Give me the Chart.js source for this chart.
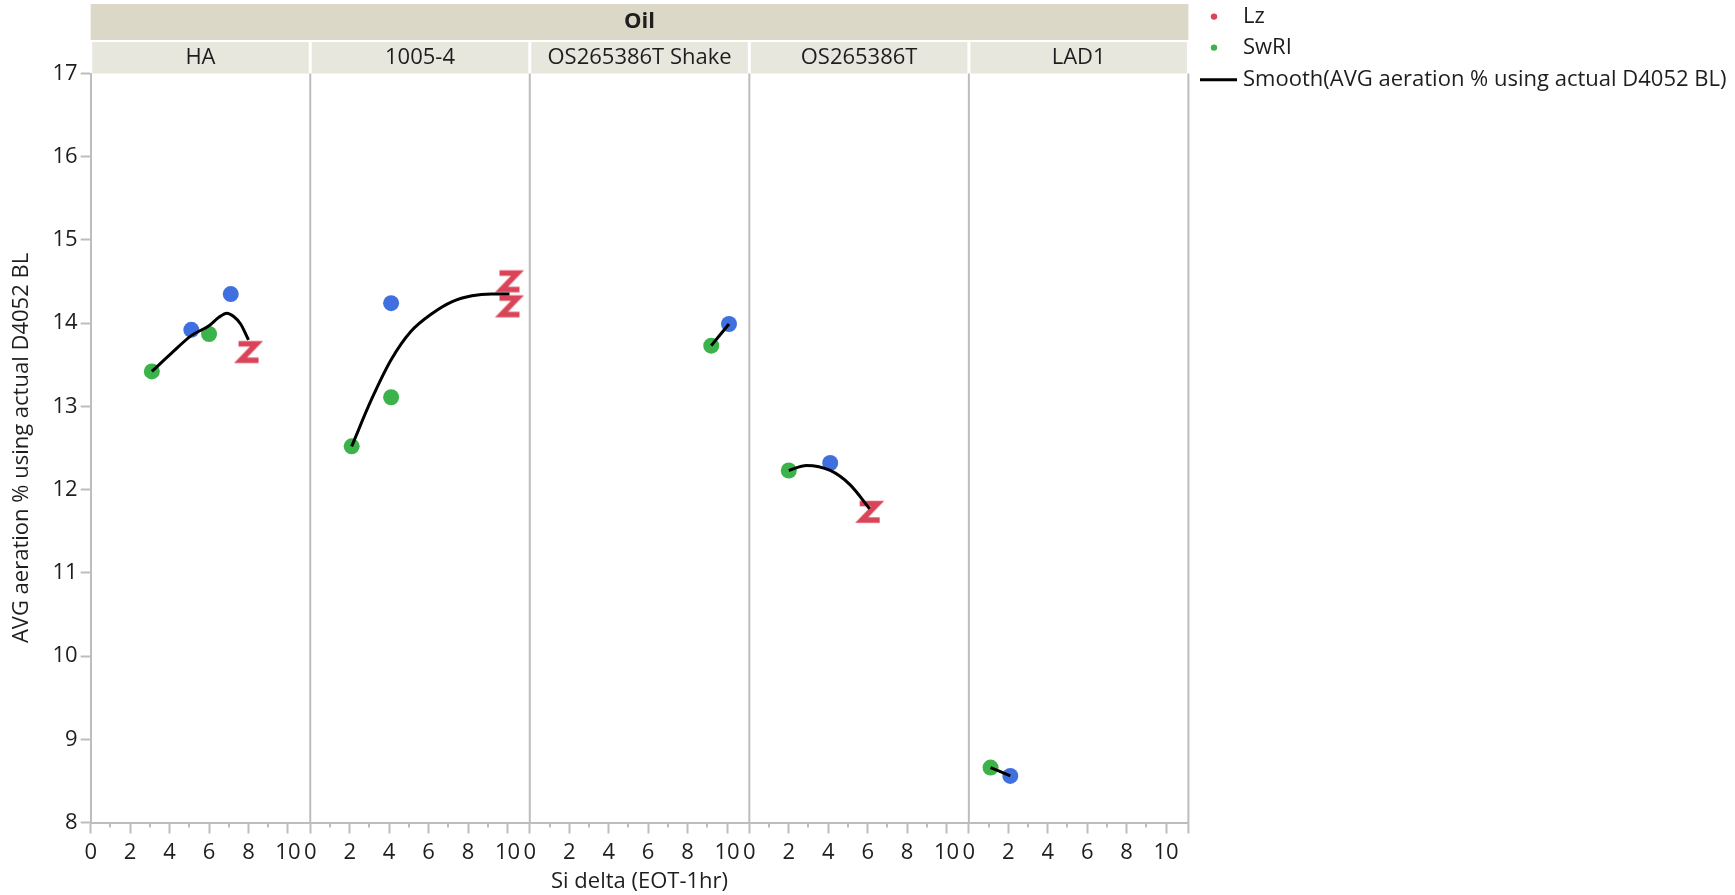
<!DOCTYPE html>
<html>
<head>
<meta charset="utf-8">
<script src="https://cdn.jsdelivr.net/npm/chart.js@4.4.0/dist/chart.umd.min.js"></script>
<style>
  html, body { margin: 0; padding: 0; background: #ffffff; }
  #wrap { width: 1735px; height: 895px; position: relative; }
  canvas { display: block; }
</style>
</head>
<body>
<div id="wrap"><canvas id="chart" width="1735" height="895"></canvas></div>
<script>
// ---- data ----
const groupTitle = 'Oil';
const oils = ['HA', '1005-4', 'OS265386T Shake', 'OS265386T', 'LAD1'];

// Lz lab (drawn with a "Z" marker)
const lzX = [[8.0], [10.1, 10.1], [], [6.1], []];
const lzY = [[13.65], [14.5, 14.2], [], [11.73], []];

// SwRI lab
const swriX = [[3.1, 6.0], [2.1, 4.1], [9.2], [2.0], [1.1]];
const swriY = [[13.42, 13.87], [12.52, 13.11], [13.73], [12.23], [8.66]];

// third lab (blue)
const otherX = [[5.1, 7.1], [4.1], [10.1], [4.1], [2.1]];
const otherY = [[13.92, 14.35], [14.24], [13.99], [12.32], [8.56]];

// smoother through each oil's results
const smoothX = [
  [3.1, 4.1, 5.1, 6.0, 6.5, 6.9, 7.25, 7.6, 8.0],
  [2.1, 3.1, 4.1, 5.1, 6.2, 7.2, 8.2, 9.2, 10.1],
  [9.2, 10.1],
  [2.0, 2.9, 4.1, 5.1, 6.1],
  [1.1, 2.1]
];
const smoothY = [
  [13.42, 13.64, 13.85, 13.97, 14.07, 14.12, 14.08, 13.99, 13.80],
  [12.52, 13.08, 13.56, 13.90, 14.12, 14.26, 14.33, 14.35, 14.35],
  [13.73, 13.99],
  [12.23, 12.29, 12.23, 12.06, 11.77],
  [8.66, 8.56]
];

const yTicks = [8, 9, 10, 11, 12, 13, 14, 15, 16, 17];
const xTicks = [0, 1, 2, 3, 4, 5, 6, 7, 8, 9, 10];
const xTickLabels = [0, 2, 4, 6, 8, 10];

const yTitle = 'AVG aeration % using actual D4052 BL';
const xTitle = 'Si delta (EOT-1hr)';
const legendItems = ['Lz', 'SwRI', 'Smooth(AVG aeration % using actual D4052 BL)'];

// ---- styles ----
const FONT = '"Open Sans", "Noto Sans", sans-serif';
const TEXT = '#1e1e1e';
const GRID = '#BDBDBD';
const RED = '#DA4458';
const GREEN = '#3CB24A';
const BLUE = '#4070E0';
const BAND = '#DBD8C8';
const CELL = '#E8E7DE';

function makeZ(color) {
  const c = document.createElement('canvas');
  c.width = 32; c.height = 30;
  const g = c.getContext('2d');
  g.strokeStyle = color;
  g.lineWidth = 5.5;
  g.lineJoin = 'miter';
  g.lineCap = 'butt';
  g.beginPath();
  g.moveTo(6, 6.5);
  g.lineTo(24, 6.5);
  g.lineTo(8, 23);
  g.lineTo(26, 23);
  g.stroke();
  return c;
}
const zMark = makeZ(RED);

const pts = (xs, ys) => xs.map((x, k) => ({ x: x, y: ys[k] }));

const datasets = [];
oils.forEach((oil, i) => {
  const axis = 'x' + i;
  datasets.push({
    label: legendItems[2], xAxisID: axis, yAxisID: 'y', order: 0,
    data: pts(smoothX[i], smoothY[i]),
    showLine: true, borderColor: '#000000', borderWidth: 3,
    pointRadius: 0, cubicInterpolationMode: 'monotone', fill: false
  });
  datasets.push({
    label: 'Lz', xAxisID: axis, yAxisID: 'y', order: 1,
    data: pts(lzX[i], lzY[i]),
    pointStyle: zMark, pointRadius: 10, showLine: false
  });
  datasets.push({
    label: 'SwRI', xAxisID: axis, yAxisID: 'y', order: 1,
    data: pts(swriX[i], swriY[i]),
    pointStyle: 'circle', pointRadius: 8, borderWidth: 0,
    backgroundColor: GREEN, borderColor: GREEN, showLine: false
  });
  datasets.push({
    label: 'Other', xAxisID: axis, yAxisID: 'y', order: 1,
    data: pts(otherX[i], otherY[i]),
    pointStyle: 'circle', pointRadius: 8, borderWidth: 0,
    backgroundColor: BLUE, borderColor: BLUE, showLine: false
  });
});

const scales = {
  y: {
    type: 'linear', position: 'left', min: 8, max: 17,
    afterFit: s => { s.width = 90.7; },
    afterBuildTicks: s => { s.ticks = yTicks.map(v => ({ value: v })); },
    ticks: { padding: 3, color: TEXT, font: { family: FONT, size: 22 } },
    grid: { drawOnChartArea: false, tickLength: 10, tickColor: GRID, tickWidth: 2 },
    border: { color: GRID, width: 2 },
    title: {
      display: true, text: yTitle, color: TEXT,
      font: { family: FONT, size: 22 }, padding: { top: 9, bottom: 0 }
    }
  }
};
oils.forEach((oil, i) => {
  scales['x' + i] = {
    type: 'linear', position: 'bottom', stack: 'oil', stackWeight: 1,
    min: 0, max: 11.13,
    afterFit: s => { s.height = 72.5; },
    afterBuildTicks: s => { s.ticks = xTicks.map(v => ({ value: v })); },
    ticks: {
      autoSkip: false, maxRotation: 0, padding: 6, color: TEXT,
      font: { family: FONT, size: 22 },
      callback: v => (xTickLabels.includes(v) ? String(v) : '')
    },
    grid: {
      drawOnChartArea: false, tickLength: 11, tickWidth: 2,
      tickColor: ctx => (ctx.tick && xTickLabels.includes(ctx.tick.value) ? GRID : 'rgba(0,0,0,0)')
    },
    border: { color: GRID, width: 2 },
    title: {
      display: i === 2, text: xTitle, color: TEXT,
      font: { family: FONT, size: 22 }, padding: { top: 0, bottom: 0 }
    }
  };
});

// facet headers, panel separators, minor ticks and the legend
const facetPlugin = {
  id: 'facets',
  beforeDraw(chart) {
    const { ctx, chartArea } = chart;
    ctx.save();
    ctx.fillStyle = BAND;
    ctx.fillRect(chartArea.left, 4, chartArea.right - chartArea.left, 36);
    ctx.fillStyle = TEXT;
    ctx.font = 'bold 22px ' + FONT;
    ctx.textAlign = 'center';
    ctx.textBaseline = 'middle';
    ctx.fillText(groupTitle, (chartArea.left + chartArea.right) / 2, 22);
    ctx.font = '22px ' + FONT;
    oils.forEach((oil, i) => {
      const s = chart.scales['x' + i];
      ctx.fillStyle = CELL;
      ctx.fillRect(s.left + 1.5, 42, s.right - s.left - 3, chartArea.top - 42);
      ctx.fillStyle = TEXT;
      ctx.fillText(oil, (s.left + s.right) / 2, 57.5);
    });
    ctx.restore();
  },
  afterDraw(chart) {
    const { ctx, chartArea } = chart;
    ctx.save();
    ctx.strokeStyle = GRID;
    ctx.lineWidth = 2;
    oils.forEach((oil, i) => {
      const s = chart.scales['x' + i];
      // right edge of every panel
      ctx.beginPath();
      ctx.moveTo(s.right, chartArea.top);
      ctx.lineTo(s.right, chartArea.bottom + (i < oils.length - 1 ? 0 : 11));
      ctx.stroke();
      // short ticks on odd values
      xTicks.filter(v => !xTickLabels.includes(v)).forEach(v => {
        const px = Math.round(s.getPixelForValue(v));
        ctx.beginPath();
        ctx.moveTo(px, chartArea.bottom);
        ctx.lineTo(px, chartArea.bottom + 5);
        ctx.stroke();
      });
    });

    // legend
    ctx.font = '22px ' + FONT;
    ctx.textAlign = 'left';
    ctx.textBaseline = 'middle';
    const lx = 1243;
    const rows = [16.6, 47.6, 79.7];
    ctx.fillStyle = RED;
    ctx.beginPath(); ctx.arc(1214, rows[0], 3.2, 0, Math.PI * 2); ctx.fill();
    ctx.fillStyle = GREEN;
    ctx.beginPath(); ctx.arc(1214, rows[1], 3.2, 0, Math.PI * 2); ctx.fill();
    ctx.strokeStyle = '#000000';
    ctx.lineWidth = 3;
    ctx.beginPath(); ctx.moveTo(1200, rows[2]); ctx.lineTo(1237, rows[2]); ctx.stroke();
    ctx.fillStyle = TEXT;
    legendItems.forEach((t, k) => ctx.fillText(t, lx, rows[k]));
    ctx.restore();
  }
};

new Chart(document.getElementById('chart'), {
  type: 'scatter',
  data: { datasets: datasets },
  options: {
    responsive: false,
    animation: false,
    devicePixelRatio: 1,
    layout: { padding: { top: 73.5, right: 546.6, left: 0, bottom: 0 } },
    scales: scales,
    plugins: {
      legend: { display: false },
      tooltip: { enabled: false }
    }
  },
  plugins: [facetPlugin]
});
</script>
</body>
</html>
